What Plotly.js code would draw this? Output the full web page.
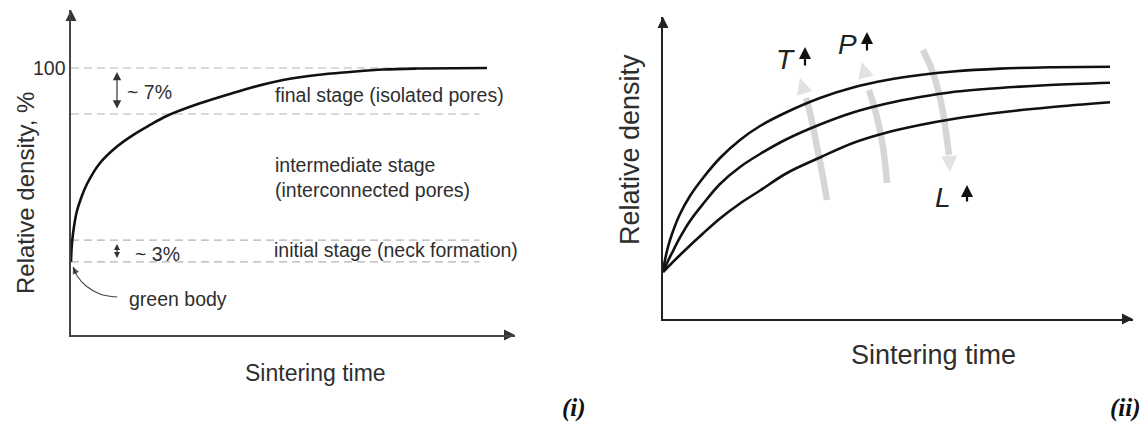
<!DOCTYPE html>
<html><head><meta charset="utf-8">
<script src="https://cdn.plot.ly/plotly-3.0.1.min.js"></script>
<style>html,body{margin:0;padding:0;background:#fff}#chart{width:1147px;height:424px}</style>
</head><body><div id="chart"></div>
<script>
// ================= Panel (i): densification stages =================
const leftXRange = [0, 10];
const leftYRange = [59.37, 108.83];
const stageBounds = [100, 93, 73.8, 70.5];          // full density, end intermediate, end initial, green body
const stageLineEnd = [9.37, 9.2, 9.2, 9.2];
const stageLabels = ['final stage (isolated pores)', 'intermediate stage<br>(interconnected pores)', 'initial stage (neck formation)'];
const gapLabels = ['~ 7%', '~ 3%'];
const densTime  = [0, 0.011, 0.029, 0.063, 0.128, 0.236, 0.354, 0.653, 1.029, 1.396, 1.779, 2.155, 2.905, 3.649, 4.032, 4.775, 5.541, 6.284, 7.027, 7.793, 9.369];
const densValue = [70.48, 72.30, 73.82, 75.65, 78.09, 80.37, 82.27, 85.54, 88.02, 89.80, 91.33, 92.70, 94.63, 96.20, 96.96, 98.17, 98.93, 99.39, 99.77, 99.92, 100];
const leaderTime  = [1.04, 0.65, 0.34, 0.14, 0.045];
const leaderValue = [65.15, 65.61, 66.82, 68.35, 69.72];

// ================= Panel (ii): effect of T, P, L =================
const rightXRange = [0, 10];
const rightYRange = [0, 10];
const timeGrid = [0, 0.043, 0.106, 0.191, 0.362, 0.574, 0.851, 1.213, 1.638, 2.064, 2.638, 3.340, 4.043, 4.766, 5.468, 6.170, 7.170, 8.234, 9.511];
const densHigh = [1.556, 1.954, 2.384, 2.815, 3.477, 4.073, 4.669, 5.331, 5.927, 6.391, 6.854, 7.318, 7.666, 7.914, 8.079, 8.195, 8.291, 8.338, 8.354];
const densMid  = [1.556, 1.702, 1.921, 2.185, 2.699, 3.245, 3.808, 4.470, 5.033, 5.464, 5.960, 6.440, 6.838, 7.136, 7.351, 7.517, 7.649, 7.748, 7.825];
const densLow  = [1.556, 1.623, 1.722, 1.854, 2.119, 2.434, 2.831, 3.328, 3.825, 4.255, 4.834, 5.348, 5.828, 6.175, 6.424, 6.623, 6.838, 7.010, 7.175];
const arcTx = [3.489, 3.383, 3.277, 3.149, 3.043];
const arcTy = [3.940, 4.868, 5.695, 6.689, 7.318];
const tipT  = [2.915, 7.980];
const arcPx = [4.766, 4.681, 4.553, 4.383];
const arcPy = [4.503, 5.695, 6.689, 7.583];
const tipP  = [4.234, 8.510];
const arcLx = [5.532, 5.745, 5.936, 6.043, 6.085];
const arcLy = [8.907, 8.146, 7.020, 5.927, 5.430];
const tipL  = [6.106, 4.868];
const factorLabels = ['T', 'P', 'L'];

const W = 1147, H = 424;
const FONT = 'Liberation Sans, Arial, sans-serif';
const TXT = '#2e2e2e';
const px = v => v / W, py = v => 1 - v / H;

const traces = [];
// dashed stage boundaries
stageBounds.forEach((b, i) => traces.push({
  x: [leftXRange[0], stageLineEnd[i]], y: [b, b], xaxis: 'x', yaxis: 'y', mode: 'lines',
  line: {color: '#b4b4b4', width: 1.2, dash: '8px,5px'}, hoverinfo: 'skip'
}));
// densification curve
traces.push({x: densTime, y: densValue, xaxis: 'x', yaxis: 'y', mode: 'lines',
  line: {color: '#111', width: 2.6, shape: 'spline', smoothing: 1}});
// green body leader
traces.push({x: leaderTime, y: leaderValue, xaxis: 'x', yaxis: 'y', mode: 'lines+markers',
  line: {color: '#444', width: 1.1, shape: 'spline'},
  marker: {symbol: 'arrow-up', size: leaderTime.map((_, i) => i === leaderTime.length - 1 ? 7 : 0), color: '#111', angleref: 'previous', line: {width: 0}},
  cliponaxis: false});
// axis arrowheads (left)
traces.push({x: [leftXRange[1]], y: [leftYRange[0]], xaxis: 'x', yaxis: 'y', mode: 'markers',
  marker: {symbol: 'arrow-right', size: 11, color: '#333', line: {width: 0}}, cliponaxis: false});
traces.push({x: [leftXRange[0]], y: [leftYRange[1]], xaxis: 'x', yaxis: 'y', mode: 'markers',
  marker: {symbol: 'arrow-up', size: 11, color: '#333', line: {width: 0}}, cliponaxis: false});

// gray arcs (right)
const GRAY = '#d6d6d6';
[[arcTx, arcTy, tipT], [arcPx, arcPy, tipP], [arcLx, arcLy, tipL]].forEach(([ax, ay, tip]) => {
  traces.push({x: ax, y: ay, xaxis: 'x2', yaxis: 'y2', mode: 'lines',
    line: {color: GRAY, width: 6.5, shape: 'spline'}});
  traces.push({x: [ax[ax.length - 1], tip[0]], y: [ay[ay.length - 1], tip[1]], xaxis: 'x2', yaxis: 'y2', mode: 'markers',
    marker: {symbol: 'arrow-up', size: [0, 16], color: GRAY, angleref: 'previous', line: {width: 0}}, cliponaxis: false});
});
// three density curves
[densHigh, densMid, densLow].forEach(d => traces.push({x: timeGrid, y: d, xaxis: 'x2', yaxis: 'y2', mode: 'lines',
  line: {color: '#111', width: 2.6, shape: 'spline', smoothing: 1}}));
// axis arrowheads (right)
traces.push({x: [rightXRange[1]], y: [rightYRange[0]], xaxis: 'x2', yaxis: 'y2', mode: 'markers',
  marker: {symbol: 'arrow-right', size: 11, color: '#222', line: {width: 0}}, cliponaxis: false});
traces.push({x: [rightXRange[0]], y: [rightYRange[1]], xaxis: 'x2', yaxis: 'y2', mode: 'markers',
  marker: {symbol: 'arrow-up', size: 11, color: '#222', line: {width: 0}}, cliponaxis: false});

const axBase = {showgrid: false, zeroline: false, showline: true, ticks: '', fixedrange: true};
const ann = [];
const lt = (text, x, y, extra) => Object.assign({text, x, y, xref: 'x', yref: 'y', xanchor: 'left', yanchor: 'middle',
  showarrow: false, align: 'left', font: {family: FONT, size: 19.5, color: TXT}}, extra || {});
ann.push(lt(gapLabels[0], 1.216, 96.35));
ann.push(lt(gapLabels[1], 1.396, 71.69));
ann.push(lt(stageLabels[0], 4.55, 95.89));
ann.push(lt(stageLabels[1], 4.55, 83.34));
ann.push(lt(stageLabels[2], 4.52, 72.30));
ann.push(lt('green body', 1.261, 64.85));
// double arrows for gaps
const dbl = (yTop, yBot, size) => ({x: 1.036, y: yTop, ax: 1.036, ay: yBot, xref: 'x', yref: 'y', axref: 'x', ayref: 'y',
  text: '', showarrow: true, arrowside: 'end+start', arrowhead: 2, arrowsize: size, arrowwidth: 1.2, arrowcolor: '#333'});
ann.push(dbl(stageBounds[0] - 0.6, stageBounds[1] + 0.6, 1.4));
ann.push(dbl(stageBounds[2] - 0.6, stageBounds[3] + 0.35, 1.0));

// right panel factor labels
const fl = (t, x, y) => ({text: '<i>' + t + '</i>', x, y, xref: 'x2', yref: 'y2', xanchor: 'center', yanchor: 'middle',
  showarrow: false, font: {family: FONT, size: 28, color: '#222'}});
ann.push(fl(factorLabels[0], 2.60, 8.58));
ann.push(fl(factorLabels[1], 3.915, 9.08));
ann.push(fl(factorLabels[2], 5.957, 4.01));
const up = (x, y0, y1) => ({x, y: y1, ax: x, ay: y0, xref: 'x2', yref: 'y2', axref: 'x2', ayref: 'y2',
  text: '', showarrow: true, arrowhead: 2, arrowsize: 1.1, arrowwidth: 2.2, arrowcolor: '#111'});
ann.push(up(3.021, 8.344, 9.007));
ann.push(up(4.340, 8.841, 9.503));
ann.push(up(6.468, 3.841, 4.437));

// axis titles and panel tags
const pt = (text, x, y, size, angle, extra) => Object.assign({text, x: px(x), y: py(y), xref: 'paper', yref: 'paper',
  xanchor: 'center', yanchor: 'middle', showarrow: false, textangle: angle || 0,
  font: {family: FONT, size, color: TXT}}, extra || {});
ann.push(pt('Relative density, %', 25, 193, 24, -90));
ann.push(pt('Sintering time', 315, 373, 23));
ann.push(pt('Relative density', 630, 150, 27, -90));
ann.push(pt('Sintering time', 933.5, 355, 27));
const TAGFONT = {family: 'Liberation Serif, Times New Roman, serif', size: 25, color: '#111'};
ann.push(pt('<b><i>(i)</i></b>', 588, 408, 25, 0, {xanchor: 'right', font: TAGFONT}));
ann.push(pt('<b><i>(ii)</i></b>', 1143, 408, 25, 0, {xanchor: 'right', font: TAGFONT}));

const layout = {
  width: W, height: H, margin: {l: 0, r: 0, t: 0, b: 0},
  paper_bgcolor: '#fff', plot_bgcolor: 'rgba(0,0,0,0)', showlegend: false, hovermode: false,
  xaxis: Object.assign({}, axBase, {domain: [px(71), px(515)], range: leftXRange, anchor: 'y', showticklabels: false, linecolor: '#444', linewidth: 1.6}),
  yaxis: Object.assign({}, axBase, {domain: [py(335), py(10)], range: leftYRange, anchor: 'x', linecolor: '#444', linewidth: 1.6,
    tickvals: [stageBounds[0]], ticktext: ['100'], tickfont: {family: FONT, size: 19.5, color: TXT}}),
  xaxis2: Object.assign({}, axBase, {domain: [px(663), px(1133)], range: rightXRange, anchor: 'y2', showticklabels: false, linecolor: '#222', linewidth: 1.6}),
  yaxis2: Object.assign({}, axBase, {domain: [py(319), py(17)], range: rightYRange, anchor: 'x2', showticklabels: false, linecolor: '#222', linewidth: 1.6}),
  annotations: ann
};
Plotly.newPlot('chart', traces, layout, {displayModeBar: false, staticPlot: true});
</script></body></html>
